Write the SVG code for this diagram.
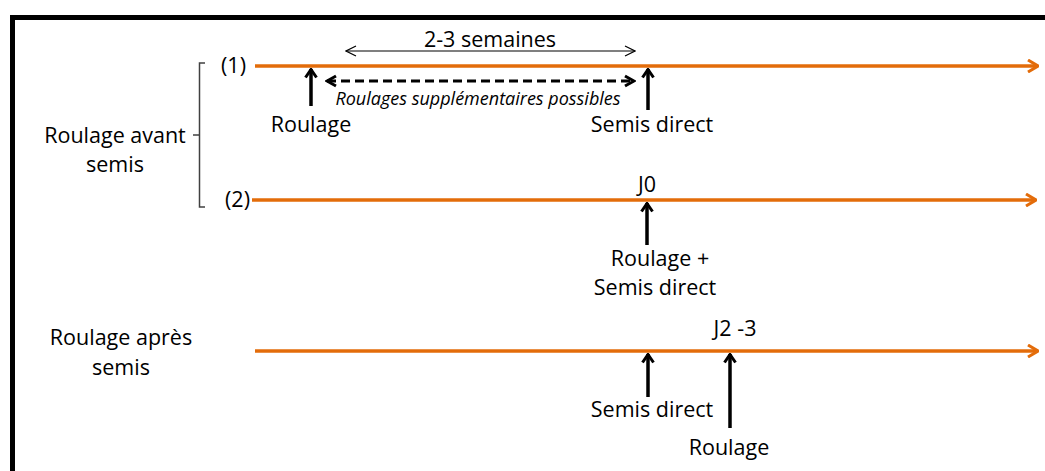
<svg xmlns="http://www.w3.org/2000/svg" width="1045" height="471" viewBox="0 0 1045 471">
  <style>
    text { font-family: "Open Sans", "Liberation Sans", sans-serif; fill: #000; }
    .lbl { font-size: 21.5px; }
    .mid { text-anchor: middle; }
    .it { font-size: 18px; font-style: italic; }
    .timeline { stroke: #E36C0A; stroke-width: 3.5; fill: none; }
    .event { stroke: #000; stroke-width: 3.5; fill: none; }
    .span { stroke: #000; stroke-width: 1.2; fill: none; }
    .dash { stroke: #000; stroke-width: 3; stroke-dasharray: 9 5; fill: none; }
    .brace { stroke: #404040; stroke-width: 1.5; fill: none; }
  </style>
  <defs>
    <marker id="orangeHead" viewBox="0 0 12 14" refX="11" refY="7" markerWidth="12" markerHeight="14" markerUnits="userSpaceOnUse" orient="auto">
      <path d="M1,1 L11,7 L1,13" stroke="#E36C0A" stroke-width="3" fill="none"/>
    </marker>
    <marker id="blackHead" viewBox="0 0 12 14" refX="10.5" refY="7" markerWidth="12" markerHeight="14" markerUnits="userSpaceOnUse" orient="auto">
      <path d="M2,1.5 L10,7 L2,12.5" stroke="#000" stroke-width="3" fill="none"/>
    </marker>
    <marker id="thinHead" viewBox="0 0 12 12" refX="11" refY="6" markerWidth="12" markerHeight="12" markerUnits="userSpaceOnUse" orient="auto-start-reverse">
      <path d="M1,1 L11,6 L1,11" stroke="#000" stroke-width="1.2" fill="none"/>
    </marker>
    <marker id="dashHead" viewBox="0 0 14 14" refX="12" refY="7" markerWidth="14" markerHeight="14" markerUnits="userSpaceOnUse" orient="auto-start-reverse">
      <path d="M3,2 L12,7 L3,12" stroke="#000" stroke-width="3" fill="none"/>
    </marker>
  </defs>

  <rect width="1045" height="471" fill="#fff"/>

  <!-- frame -->
  <path d="M12.5,471 V17.5 H1045" stroke="#000" stroke-width="5" fill="none"/>

  <!-- connectors: timelines, event arrows, spans, bracket -->
  <g id="connectors">
    <line class="timeline" x1="255" y1="66" x2="1038" y2="66" marker-end="url(#orangeHead)"/>
    <line class="timeline" x1="252" y1="200" x2="1036" y2="200" marker-end="url(#orangeHead)"/>
    <line class="timeline" x1="255" y1="351" x2="1038" y2="351" marker-end="url(#orangeHead)"/>

    <line class="event" x1="311" y1="106" x2="311" y2="69" marker-end="url(#blackHead)"/>
    <line class="event" x1="648" y1="110" x2="648" y2="69" marker-end="url(#blackHead)"/>
    <line class="event" x1="647" y1="245" x2="647" y2="203" marker-end="url(#blackHead)"/>
    <line class="event" x1="648" y1="397" x2="648" y2="354" marker-end="url(#blackHead)"/>
    <line class="event" x1="730" y1="428" x2="730" y2="354" marker-end="url(#blackHead)"/>

    <line class="span" x1="346" y1="51" x2="635" y2="51" marker-start="url(#thinHead)" marker-end="url(#thinHead)"/>
    <line class="dash" x1="327" y1="81" x2="634" y2="81" marker-start="url(#dashHead)" marker-end="url(#dashHead)"/>

    <path class="brace" d="M205,63 H199.5 V207 H205 M199.5,135 H193"/>
  </g>

  <g id="label-avant">
    <text class="lbl mid" x="115" y="143">Roulage avant</text>
    <text class="lbl mid" x="115" y="172">semis</text>
  </g>
  <g id="label-apres">
    <text class="lbl mid" x="121" y="345">Roulage après</text>
    <text class="lbl mid" x="121" y="375">semis</text>
  </g>

  <g id="line-1">
    <text class="lbl" x="221" y="73">(1)</text>
    <text class="lbl mid" x="311" y="132">Roulage</text>
    <text class="lbl mid" x="652" y="132">Semis direct</text>
    <text class="lbl mid" x="490" y="47">2-3 semaines</text>
    <text class="it mid" x="478" y="105">Roulages supplémentaires possibles</text>
  </g>

  <g id="line-2">
    <text class="lbl" x="225" y="207">(2)</text>
    <text class="lbl mid" x="647" y="192">J0</text>
    <text class="lbl mid" x="660" y="266">Roulage +</text>
    <text class="lbl mid" x="655" y="295">Semis direct</text>
  </g>

  <g id="line-3">
    <text class="lbl mid" x="735" y="336">J2 -3</text>
    <text class="lbl mid" x="652" y="417">Semis direct</text>
    <text class="lbl mid" x="729" y="455">Roulage</text>
  </g>
</svg>
